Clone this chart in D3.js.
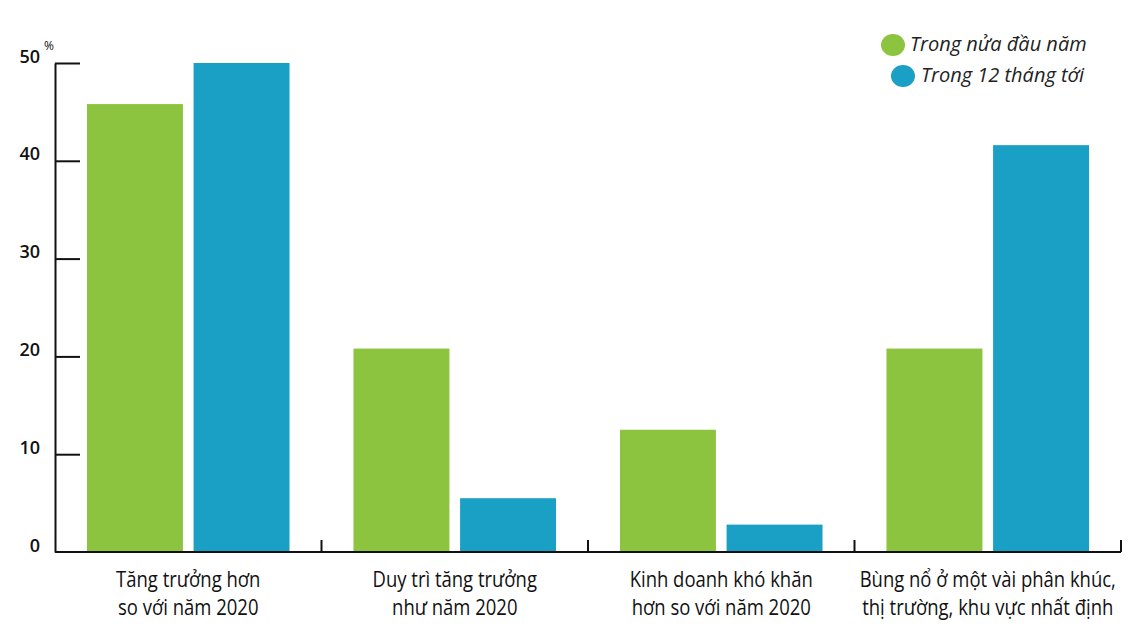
<!DOCTYPE html>
<html><head><meta charset="utf-8">
<script src="https://cdn.jsdelivr.net/npm/d3@7"></script>
<style>
body{margin:0;background:#fff;}
svg{display:block;}
</style></head><body>
<svg id="c" width="1142" height="639"></svg>
<script>
const categories = [
  ["Tăng trưởng hơn", "so với năm 2020"],
  ["Duy trì tăng trưởng", "như năm 2020"],
  ["Kinh doanh khó khăn", "hơn so với năm 2020"],
  ["Bùng nổ ở một vài phân khúc,", "thị trường, khu vực nhất định"]
];
const seriesNames = ["Trong nửa đầu năm", "Trong 12 tháng tới"];
const firstHalf = [45.8, 20.8, 12.5, 20.8];
const next12 = [50, 5.5, 2.8, 41.6];
const yTicks = [0, 10, 20, 30, 40, 50];
const colors = ["#8cc43f", "#1aa0c4"];

const svg = d3.select("#c");
const font = "'Open Sans', sans-serif";
const x0 = 55, x1 = 1121, yBase = 552, yTop = 63;

const x = d3.scaleBand().domain(d3.range(categories.length)).range([x0, x1]).paddingInner(0).paddingOuter(0);
const xs = d3.scaleBand().domain([0, 1]).range([0, x.bandwidth()]).paddingInner(0.1).paddingOuter(0.3);
const y = d3.scaleLinear().domain([0, 50]).range([yBase, yTop]);

const data = categories.map((c, i) => ({i, vals: [firstHalf[i], next12[i]]}));

// bars
const g = svg.append("g");
data.forEach(d => {
  g.selectAll(null).data(d.vals).enter().append("rect")
    .attr("x", (v, j) => x(d.i) + xs(j))
    .attr("width", xs.bandwidth())
    .attr("y", v => y(v))
    .attr("height", v => yBase - y(v))
    .attr("fill", (v, j) => colors[j]);
});

// y axis
const ya = svg.append("g").attr("transform", `translate(${x0},0)`)
  .call(d3.axisLeft(y).tickValues(yTicks).tickSize(-25).tickSizeOuter(0).tickPadding(15).tickFormat(d3.format("d")));
ya.select(".domain").attr("stroke", "#111").attr("stroke-width", 2);
ya.selectAll(".tick line").attr("stroke", "#111").attr("stroke-width", 2);
ya.selectAll(".tick").filter(d => d === 0).select("line").remove();
ya.selectAll(".tick text").attr("font-family", font).attr("font-size", 18).attr("font-weight", 600).attr("fill", "#111").attr("dy", "-0.05em");
svg.append("text").attr("x", x0 - 11).attr("y", yTop - 13).text("%")
  .attr("font-family", font).attr("font-size", 12).attr("fill", "#111");

// x baseline with boundary ticks
svg.append("line").attr("x1", x0).attr("x2", x1).attr("y1", yBase).attr("y2", yBase).attr("stroke", "#111").attr("stroke-width", 2);
const bounds = d3.range(categories.length + 1).map(i => x0 + i * x.bandwidth()).slice(1);
svg.selectAll(null).data(bounds).enter().append("line")
  .attr("x1", d => d).attr("x2", d => d).attr("y1", yBase).attr("y2", yBase - 12)
  .attr("stroke", "#111").attr("stroke-width", 2);

// category labels (condensed)
categories.forEach((lines, i) => {
  const gg = svg.append("g").attr("transform", `translate(${x(i) + x.bandwidth() / 2},0) scale(0.88,1)`);
  const t = gg.append("text").attr("text-anchor", "middle")
    .attr("font-family", font).attr("font-size", 21).attr("fill", "#111");
  lines.forEach((l, k) => t.append("tspan").attr("x", 0).attr("y", 587 + k * 28).text(l));
});

// legend
const leg = svg.append("g");
const legPos = [{cx: 893, cy: 45, tx: 910}, {cx: 903, cy: 76, tx: 921}];
seriesNames.forEach((s, j) => {
  leg.append("ellipse").attr("cx", legPos[j].cx).attr("cy", legPos[j].cy).attr("rx", 12).attr("ry", 11).attr("fill", colors[j]);
  leg.append("text").attr("x", legPos[j].tx).attr("y", legPos[j].cy + 6).text(s)
    .attr("font-family", font).attr("font-style", "italic").attr("font-size", 20).attr("fill", "#222");
});
</script></body></html>
